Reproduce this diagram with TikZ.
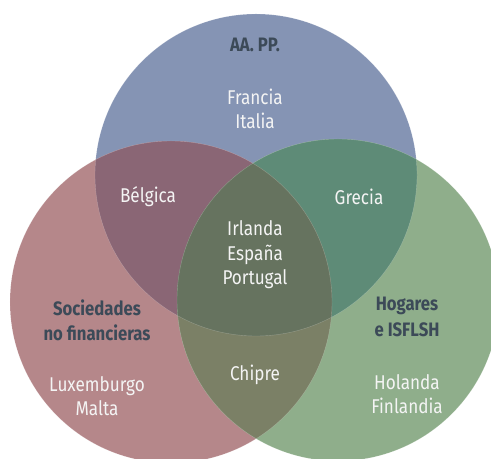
\documentclass[tikz,border=0pt]{standalone}
\usepackage{fontspec}
\setmainfont[FakeStretch=0.86]{Fira Sans}
\definecolor{ctop}{HTML}{8594B4}
\definecolor{cleft}{HTML}{B5878A}
\definecolor{cright}{HTML}{8FAE8B}
\definecolor{ctl}{HTML}{8A6675}
\definecolor{ctr}{HTML}{5E8B77}
\definecolor{clr}{HTML}{7B8066}
\definecolor{call}{HTML}{66735F}
\definecolor{cdark}{HTML}{3C4A58}
\definecolor{cwhite}{HTML}{F4F4F4}
\tikzset{
  country/.style={text=cwhite, font=\fontsize{20}{24.5}\selectfont, align=center, inner sep=0pt},
  sector/.style={text=cdark, font=\fontsize{19.5}{25.5}\selectfont\bfseries, align=center, inner sep=0pt},
  edge/.style={draw=white, draw opacity=0.25, line width=0.4bp}
}
\begin{document}
\begin{tikzpicture}[x=1bp,y=-1bp]
\useasboundingbox (0,0) rectangle (491,459);
\clip (0,0) rectangle (491,459);
\coordinate (T) at (256,175);
\coordinate (L) at (171,302);
\coordinate (R) at (338,300);
\def\rr{161bp}
\fill[ctop] (T) circle[radius=\rr];
\fill[cleft] (L) circle[radius=\rr];
\fill[cright] (R) circle[radius=\rr];
\begin{scope}
  \clip (T) circle[radius=\rr];
  \fill[ctl] (L) circle[radius=\rr];
  \fill[ctr] (R) circle[radius=\rr];
\end{scope}
\begin{scope}
  \clip (L) circle[radius=\rr];
  \fill[clr] (R) circle[radius=\rr];
  \clip (R) circle[radius=\rr];
  \fill[call] (T) circle[radius=\rr];
\end{scope}
\draw[edge] (T) circle[radius=\rr];
\draw[edge] (L) circle[radius=\rr];
\draw[edge] (R) circle[radius=\rr];

\node[sector] (aapp) at (255,45) {AA. PP.};
\node[country] (fi) at (255,109) {Francia\\Italia};
\node[country] (be) at (148,197) {Bélgica};
\node[country] (gr) at (359,197) {Grecia};
\node[country] (iep) at (255,255) {Irlanda\\España\\Portugal};
\node[sector] (snf) at (97,320) {Sociedades\\no financieras};
\node[country] (lm) at (97,396) {Luxemburgo\\Malta};
\node[country] (ch) at (255,375) {Chipre};
\node[sector] (hog) at (407,317) {Hogares\\e ISFLSH};
\node[country] (hf) at (407,394) {Holanda\\Finlandia};
\end{tikzpicture}
\end{document}
